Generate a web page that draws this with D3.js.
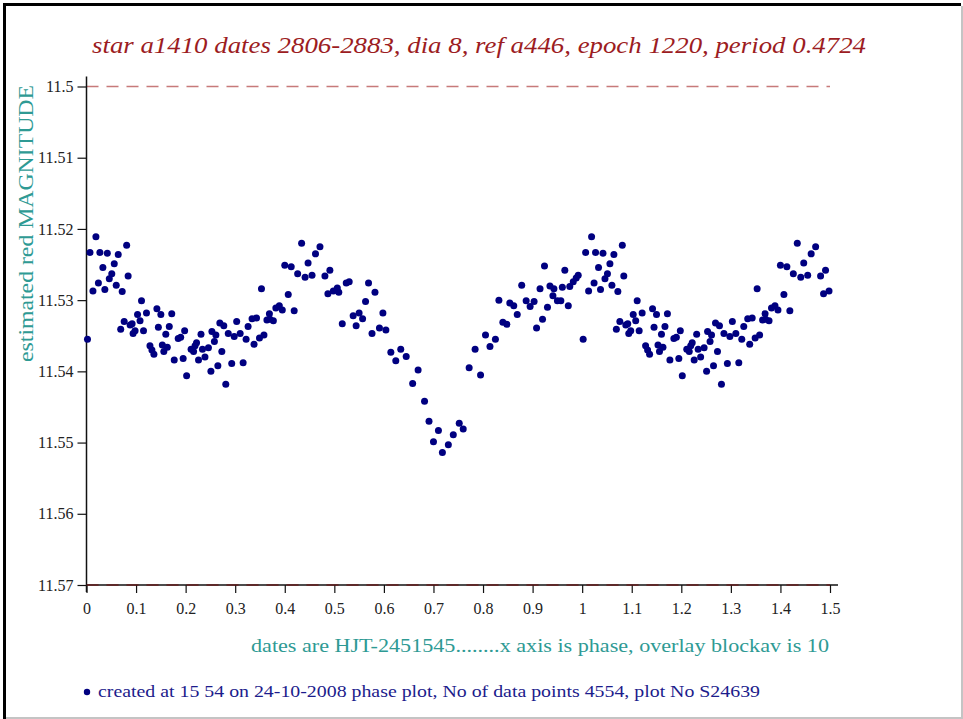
<!DOCTYPE html>
<html>
<head>
<meta charset="utf-8">
<script src="https://cdn.jsdelivr.net/npm/d3@7"></script>
<style>
  html, body { margin: 0; padding: 0; background: #fff; }
  svg { display: block; }
</style>
</head>
<body>
<div id="chart"></div>
<script>
// phase plot of star a1410, one cycle (0..1)
const phase = [
  0.019, 0.081, 0.007, 0.027, 0.042, 0.064, 0.033, 0.056, 0.051, 0.046,
  0.084, 0.024, 0.060, 0.013, 0.037, 0.072, 0.111, 0.002, 0.142, 0.121,
  0.103, 0.150, 0.172, 0.108, 0.076, 0.088, 0.092, 0.069, 0.098, 0.115,
  0.145, 0.167, 0.094, 0.160, 0.198, 0.185, 0.190, 0.128, 0.132, 0.136,
  0.153, 0.163, 0.156, 0.177, 0.195, 0.202, 0.211, 0.219, 0.222, 0.216,
  0.231, 0.234, 0.246, 0.226, 0.239, 0.251, 0.265, 0.253, 0.261, 0.258,
  0.273, 0.281, 0.269, 0.277, 0.286, 0.298, 0.303, 0.310, 0.322, 0.326,
  0.293, 0.316, 0.434, 0.471, 0.462, 0.447, 0.400, 0.413, 0.426, 0.441,
  0.455, 0.481, 0.491, 0.353, 0.407, 0.487, 0.498, 0.506, 0.509, 0.524,
  0.530, 0.569, 0.582, 0.563, 0.389, 0.382, 0.395, 0.419, 0.369, 0.364,
  0.370, 0.377, 0.334, 0.343, 0.538, 0.550, 0.557, 0.598, 0.516, 0.544,
  0.591, 0.604, 0.576, 0.358, 0.349, 0.338, 0.614, 0.634, 0.645, 0.624,
  0.669, 0.658, 0.682, 0.691, 0.710, 0.700, 0.718, 0.730, 0.740, 0.752,
  0.760, 0.772, 0.795, 0.784, 0.814, 0.805, 0.825, 0.840, 0.848, 0.832,
  0.869, 0.854, 0.862, 0.878, 0.887, 0.895, 0.903, 0.908, 0.920, 0.930,
  0.915, 0.924, 0.935, 0.943, 0.941, 0.950, 0.957, 0.972, 0.960, 0.965,
  0.975, 0.982, 0.988, 0.992
];
const mag = [
  11.5211, 11.5223, 11.5233, 11.5233, 11.5234, 11.5236, 11.5254, 11.5249, 11.5263, 11.5270,
  11.5266, 11.5276, 11.5279, 11.5287, 11.5285, 11.5288, 11.5301, 11.5355, 11.5312, 11.5318,
  11.5320, 11.5320, 11.5319, 11.5329, 11.5330, 11.5335, 11.5333, 11.5341, 11.5343, 11.5343,
  11.5338, 11.5337, 11.5347, 11.5348, 11.5343, 11.5354, 11.5352, 11.5364, 11.5370, 11.5376,
  11.5363, 11.5366, 11.5372, 11.5384, 11.5382, 11.5406, 11.5369, 11.5364, 11.5360, 11.5372,
  11.5348, 11.5369, 11.5367, 11.5384, 11.5380, 11.5400, 11.5392, 11.5344, 11.5349, 11.5358,
  11.5372, 11.5418, 11.5332, 11.5336, 11.5347, 11.5351, 11.5330, 11.5347, 11.5355, 11.5337,
  11.5389, 11.5388, 11.5220, 11.5225, 11.5235, 11.5248, 11.5251, 11.5253, 11.5263, 11.5268,
  11.5265, 11.5266, 11.5258, 11.5284, 11.5292, 11.5291, 11.5287, 11.5283, 11.5289, 11.5276,
  11.5274, 11.5276, 11.5289, 11.5302, 11.5308, 11.5311, 11.5314, 11.5315, 11.5319, 11.5328,
  11.5327, 11.5329, 11.5326, 11.5325, 11.5322, 11.5318, 11.5326, 11.5318, 11.5333, 11.5336,
  11.5339, 11.5342, 11.5347, 11.5349, 11.5353, 11.5362, 11.5373, 11.5369, 11.5379, 11.5385,
  11.5398, 11.5417, 11.5442, 11.5470, 11.5483, 11.5499, 11.5514, 11.5503, 11.5489, 11.5473,
  11.5481, 11.5395, 11.5405, 11.5369, 11.5365, 11.5349, 11.5355, 11.5331, 11.5334, 11.5300,
  11.5320, 11.5304, 11.5308, 11.5279, 11.5301, 11.5309, 11.5302, 11.5339, 11.5327, 11.5310,
  11.5284, 11.5252, 11.5280, 11.5284, 11.5294, 11.5301, 11.5301, 11.5308, 11.5282, 11.5258,
  11.5281, 11.5274, 11.5269, 11.5265
];
const xTicks = [0, 0.1, 0.2, 0.3, 0.4, 0.5, 0.6, 0.7, 0.8, 0.9, 1, 1.1, 1.2, 1.3, 1.4, 1.5];
const yTicks = [11.5, 11.51, 11.52, 11.53, 11.54, 11.55, 11.56, 11.57];
const refLines = [11.5, 11.57];
const titleText = "star a1410 dates 2806-2883, dia 8, ref a446, epoch 1220, period 0.4724";
const xLabelText = "dates are HJT-2451545........x axis is phase, overlay blockav is 10";
const yLabelText = "estimated red MAGNITUDE";
const footText = "created at 15 54 on 24-10-2008 phase plot, No of data points 4554,  plot No S24639";

const width = 963, height = 719;
const dotColor = "#000080";
const teal = "#2e9a94";

// pick a Times-like face that is really installed
function hasFont(name) {
  const ctx = document.createElement("canvas").getContext("2d");
  const s = "11.52 estimated MAGNITUDE wwwiii";
  ctx.font = "40px monospace";
  const a = ctx.measureText(s).width;
  ctx.font = "40px '" + name + "', monospace";
  return ctx.measureText(s).width !== a;
}
const serifFont = ["Liberation Serif", "Tinos", "Times New Roman", "Times", "Nimbus Roman", "FreeSerif", "DejaVu Serif"]
  .find(hasFont) || "serif";
const fontStack = "'" + serifFont + "', serif";

// phase plot: the first half cycle is shown again after phase 1
const points = phase.map((p, i) => ({ p: p, m: mag[i] }));
const overlay = points.filter(d => d.p <= 0.5).map(d => ({ p: d.p + 1, m: d.m }));
const allPoints = points.concat(overlay);

const svg = d3.select("#chart")
  .append("svg")
  .attr("width", width)
  .attr("height", height)
  .style("font-family", fontStack);

// page frame
svg.append("line").attr("x1", 3).attr("x2", 961).attr("y1", 4.5).attr("y2", 4.5)
  .attr("stroke", "#000").attr("stroke-width", 3);
svg.append("line").attr("x1", 4.5).attr("x2", 4.5).attr("y1", 3).attr("y2", 719)
  .attr("stroke", "#000").attr("stroke-width", 3);
svg.append("line").attr("x1", 962).attr("x2", 962).attr("y1", 6).attr("y2", 719)
  .attr("stroke", "#c4c4c4").attr("stroke-width", 2);
svg.append("line").attr("x1", 6).attr("x2", 963).attr("y1", 718).attr("y2", 718)
  .attr("stroke", "#c4c4c4").attr("stroke-width", 2);

const x = d3.scaleLinear().domain([0, 1.5]).range([86.5, 830]);
const y = d3.scaleLinear().domain([11.5, 11.57]).range([86.5, 585]);

// dashed reference lines
svg.append("g").selectAll("line")
  .data(refLines)
  .enter()
  .append("line")
  .attr("x1", x(0)).attr("x2", x(1.5))
  .attr("y1", d => y(d)).attr("y2", d => y(d))
  .attr("stroke", "#c77a7a")
  .attr("stroke-width", 1.3)
  .attr("stroke-dasharray", "12,8");

// X axis
const xAxis = svg.append("g")
  .attr("transform", "translate(0," + y(11.57) + ")")
  .call(d3.axisBottom(x).tickValues(xTicks).tickSize(8).tickPadding(10)
    .tickFormat(d => String(+d.toFixed(1))));
xAxis.attr("font-family", null);
xAxis.select(".domain").remove();
xAxis.selectAll(".tick line").attr("stroke", "#111").attr("stroke-width", 1.2);
xAxis.selectAll(".tick text").attr("font-size", 16).attr("fill", "#222");
svg.append("line").attr("x1", x(0)).attr("x2", x(1.5) + 8)
  .attr("y1", y(11.57)).attr("y2", y(11.57)).attr("stroke", "#111").attr("stroke-width", 1.5);

// Y axis
const yAxis = svg.append("g")
  .attr("transform", "translate(" + x(0) + ",0)")
  .call(d3.axisLeft(y).tickValues(yTicks).tickSize(9).tickPadding(4)
    .tickFormat(d => String(+d.toFixed(2))));
yAxis.attr("font-family", null);
yAxis.select(".domain").remove();
yAxis.selectAll(".tick line").attr("stroke", "#111").attr("stroke-width", 1.2);
yAxis.selectAll(".tick text").attr("font-size", 16).attr("fill", "#222");
svg.append("line").attr("x1", x(0)).attr("x2", x(0))
  .attr("y1", y(11.5) - 10).attr("y2", y(11.57) + 7).attr("stroke", "#111").attr("stroke-width", 1.5);

// red overlay on the bottom line
svg.append("line").attr("x1", x(0)).attr("x2", x(1.5))
  .attr("y1", y(11.57)).attr("y2", y(11.57))
  .attr("stroke", "#8a2020").attr("stroke-width", 0.8).attr("stroke-dasharray", "12,8");

// dots
svg.append("g").selectAll("circle")
  .data(allPoints)
  .enter()
  .append("circle")
  .attr("cx", d => x(d.p))
  .attr("cy", d => y(d.m))
  .attr("r", 3.5)
  .style("fill", dotColor);

// title
svg.append("text")
  .attr("x", 92).attr("y", 53)
  .attr("font-size", 23).attr("font-style", "italic")
  .attr("fill", "#9c1c22")
  .attr("textLength", 774).attr("lengthAdjust", "spacingAndGlyphs")
  .text(titleText);

// y label
svg.append("text")
  .attr("transform", "translate(33,362) rotate(-90)")
  .attr("font-size", 21)
  .attr("fill", teal)
  .attr("textLength", 277).attr("lengthAdjust", "spacingAndGlyphs")
  .text(yLabelText);

// x label
svg.append("text")
  .attr("x", 251).attr("y", 652)
  .attr("font-size", 19)
  .attr("fill", teal)
  .attr("textLength", 578).attr("lengthAdjust", "spacingAndGlyphs")
  .text(xLabelText);

// footer with legend dot
svg.append("circle").attr("cx", 87).attr("cy", 692).attr("r", 3.2).style("fill", dotColor);
svg.append("text")
  .attr("x", 98).attr("y", 697)
  .attr("font-size", 16)
  .attr("fill", "#1c1c8c")
  .attr("textLength", 662).attr("lengthAdjust", "spacingAndGlyphs")
  .text(footText);
</script>
</body>
</html>
